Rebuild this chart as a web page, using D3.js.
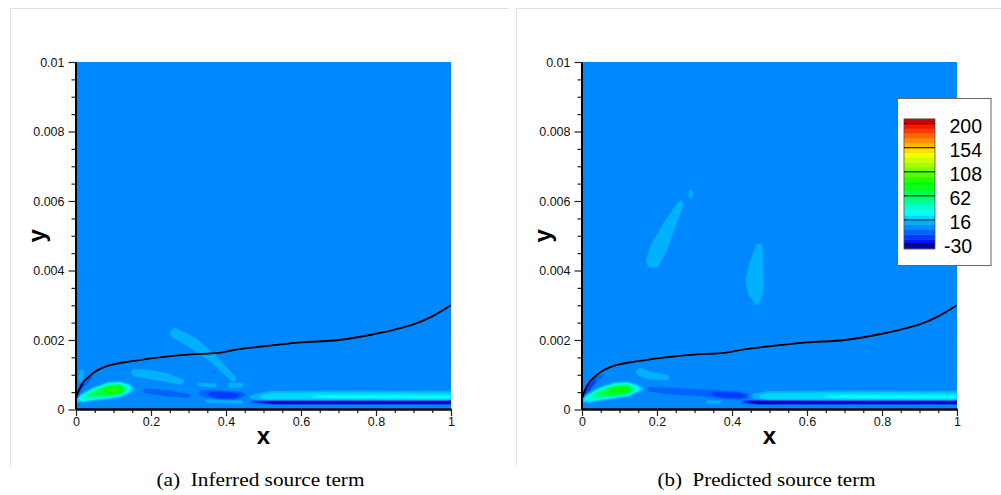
<!DOCTYPE html>
<html><head><meta charset="utf-8">
<script src="https://cdn.jsdelivr.net/npm/d3@7"></script>
<style>body{margin:0;background:#fff}svg{display:block}</style>
</head><body>
<svg id="chart" width="1001" height="495"></svg>
<script>
// ---------------- data ----------------
const xTicks = [0, 0.2, 0.4, 0.6, 0.8, 1];
const xTickLabels = ["0", "0.2", "0.4", "0.6", "0.8", "1"];
const xMinorTicks = [0.05,0.1,0.15,0.25,0.3,0.35,0.45,0.5,0.55,0.65,0.7,0.75,0.85,0.9,0.95];
const yTicks = [0, 0.002, 0.004, 0.006, 0.008, 0.01];
const yTickLabels = ["0", "0.002", "0.004", "0.006", "0.008", "0.01"];
const yMinorTicks = [0.0005,0.001,0.0015,0.0025,0.003,0.0035,0.0045,0.005,0.0055,0.0065,0.007,0.0075,0.0085,0.009,0.0095];

// contour levels of the source term
const levels = [-30,-20.8,-11.6,-2.4,6.8,16,25.2,34.4,43.6,52.8,62,71.2,80.4,89.6,98.8,108,117.2,126.4,135.6,144.8,154,163.2,172.4,181.6,190.8,200];
const legendLabels = [200, 154, 108, 62, 16, -30];
const backgroundValue = 2;

// boundary-layer edge (black line), same in both panels
const edgeX = [0, 0.005, 0.01, 0.02, 0.03, 0.05, 0.075, 0.1, 0.15, 0.2, 0.3, 0.38, 0.42, 0.5, 0.6, 0.7, 0.8, 0.85, 0.9, 0.95, 1.0];
const edgeY = [0.0003, 0.00048, 0.0006, 0.00079, 0.0009, 0.00108, 0.00122, 0.0013, 0.00139, 0.00147, 0.00158, 0.00163, 0.00171, 0.00182, 0.00193, 0.002, 0.00218, 0.0023, 0.00245, 0.00268, 0.003];

// source-term features: polylines of [x, y, half-thickness (y units), value above background]
const featuresA = [
  [[0.0,0.00026,0.00007,12],[0.02,0.00034,0.00011,38],[0.05,0.00045,0.00015,62],[0.09,0.00055,0.00018,90],[0.115,0.00058,0.00017,88],[0.135,0.0006,0.00013,42],[0.152,0.0006,0.00007,9]],
  [[0.003,0.00042,0.00006,-13],[0.015,0.00068,0.00007,-16],[0.04,0.0009,0.00005,-8]],
  [[0.012,0.00088,0.00007,11],[0.015,0.00108,0.00007,11]],
  [[0.158,0.00106,0.00011,11],[0.2,0.001,0.00014,11],[0.24,0.00092,0.00013,11],[0.28,0.0008,0.00009,11]],
  [[0.185,0.00054,0.00008,-9],[0.24,0.00047,0.0001,-10],[0.3,0.00039,0.00007,-8]],
  [[0.265,0.00219,0.00015,11],[0.313,0.00191,0.00017,11],[0.366,0.00146,0.00012,11],[0.402,0.00107,0.0001,11],[0.42,0.00088,0.00008,10]],
  [[0.366,0.00111,0.00003,-8],[0.37,0.00109,0.00003,-8]],
  [[0.33,0.00072,0.00006,10],[0.37,0.00069,0.00006,10]],
  [[0.412,0.0007,0.00007,11],[0.44,0.0007,0.00007,11]],
  [[0.335,0.00047,0.0001,-8],[0.38,0.00042,0.00012,-22],[0.42,0.0004,0.00011,-22],[0.445,0.00043,0.00008,-8]],
  [[0.35,0.00024,0.00005,10],[0.44,0.00022,0.00005,10]],
  [[0.47,0.00036,0.00008,8],[0.52,0.00037,0.00014,22],[0.7,0.00037,0.00015,24],[1.0,0.00036,0.00015,24]],
  [[0.47,0.00022,0.00004,-15],[0.53,0.00021,0.00006,-50],[1.0,0.00021,0.00006,-55]]
];
const featuresB = [
  [[0.0,0.00026,0.00007,12],[0.02,0.00034,0.00011,38],[0.05,0.00045,0.00015,62],[0.09,0.00055,0.00017,88],[0.12,0.00058,0.00016,86],[0.14,0.0006,0.00012,38],[0.16,0.0006,0.00007,9]],
  [[0.004,0.0004,0.00006,-12],[0.018,0.00065,0.00009,-20],[0.04,0.00088,0.00006,-12],[0.055,0.00098,0.00004,-7]],
  [[0.155,0.00108,0.00012,11],[0.18,0.00098,0.00012,11],[0.225,0.00092,0.00008,10]],
  [[0.18,0.00058,0.00009,-7],[0.25,0.00052,0.00011,-9],[0.32,0.00048,0.00011,-9],[0.38,0.00042,0.00011,-20],[0.42,0.0004,0.0001,-22],[0.45,0.00038,0.00007,-8]],
  [[0.335,0.00022,0.00004,10],[0.37,0.00022,0.00004,10]],
  [[0.45,0.00038,0.00008,8],[0.5,0.00037,0.00014,21],[0.7,0.00037,0.00015,24],[1.0,0.00036,0.00015,24]],
  [[0.43,0.00022,0.00004,-15],[0.47,0.00021,0.00006,-55],[1.0,0.00021,0.00006,-55]],
  [[0.19,0.00428,0.00022,11],[0.205,0.00465,0.00026,11],[0.235,0.00535,0.00018,11],[0.262,0.0059,0.0001,11]],
  [[0.29,0.00614,0.00006,10],[0.29,0.00626,0.00006,10]],
  [[0.472,0.00468,0.0001,11],[0.465,0.0042,0.00021,11],[0.461,0.0037,0.00028,11],[0.463,0.0034,0.00024,11],[0.466,0.00312,0.00011,11]]
];
const captions = ["(a)  Inferred source term", "(b)  Predicted source term"];

// ---------------- styles ----------------
const cmapStops = [0, 0.26, 0.5, 0.75, 1];
const cmapColors = ["#0000ff", "#00ffff", "#00ff00", "#ffff00", "#ff0000"];
const belowColor = "#0000b4", aboveColor = "#c80000";
const sansFont = "'Liberation Sans', Arial, Helvetica, sans-serif";
const serifFont = "'Liberation Serif', 'Times New Roman', serif";
const captionWidths = [208, 218];

const svg = d3.select("#chart");
svg.append("rect").attr("width", 1001).attr("height", 495).attr("fill", "#fff");

const cmap = d3.scaleLinear().domain(cmapStops).range(cmapColors).interpolate(d3.interpolateRgb);
const frac = d3.scaleLinear().domain([levels[0], levels[levels.length - 1]]).range([0, 1]);
function bandColor(k) { // band k: [levels[k], levels[k+1])
  if (k < 0) return belowColor;
  if (k >= levels.length - 1) return aboveColor;
  return cmap(frac((levels[k] + levels[k + 1]) / 2));
}

const panels = [
  { x0: 76, x1: 451, feats: featuresA, frame: [10, 509] },
  { x0: 582, x1: 957, feats: featuresB, frame: [516, 1001], legend: true }
];
const y0 = 62, y1 = 409.5;

function buildField(feats, xs, ys, nx, ny, gx, gy) {
  const hs = d => Math.abs(ys(0) - ys(d));
  const F = feats.map(f => {
    const pts = f.map(p => ({ x: xs(p[0]), y: ys(p[1]), h: hs(p[2]), v: p[3] }));
    const hmax = d3.max(pts, p => p.h) * 2.6;
    return { pts, bx0: d3.min(pts, p => p.x) - hmax, bx1: d3.max(pts, p => p.x) + hmax,
             by0: d3.min(pts, p => p.y) - hmax, by1: d3.max(pts, p => p.y) + hmax };
  });
  const vals = new Float64Array(nx * ny);
  for (let j = 0; j < ny; j++) {
    const py = gy(j + 0.5);
    for (let i = 0; i < nx; i++) {
      const px = gx(i + 0.5);
      let val = backgroundValue;
      for (const f of F) {
        if (px < f.bx0 || px > f.bx1 || py < f.by0 || py > f.by1) continue;
        let best = 0;
        const P = f.pts;
        for (let k = 0; k < P.length - 1; k++) {
          const a = P[k], b = P[k + 1];
          const dx = b.x - a.x, dy = b.y - a.y, L2 = dx * dx + dy * dy;
          let t = L2 > 0 ? ((px - a.x) * dx + (py - a.y) * dy) / L2 : 0;
          t = Math.max(0, Math.min(1, t));
          const cx = a.x + t * dx, cy = a.y + t * dy;
          const d = Math.hypot(px - cx, py - cy);
          const h = a.h + t * (b.h - a.h), v = a.v + t * (b.v - a.v);
          const r = d / h;
          const c = v * Math.exp(-r * r * r);
          if (Math.abs(c) > Math.abs(best)) best = c;
        }
        val += best;
      }
      vals[j * nx + i] = val;
    }
  }
  return vals;
}

panels.forEach((P, pi) => {
  const g = svg.append("g");
  // light frame lines
  g.append("line").attr("x1", P.frame[0]).attr("x2", P.frame[1]).attr("y1", 8.5).attr("y2", 8.5).attr("stroke", "#e2e2e2");
  g.append("line").attr("x1", P.frame[0] + 0.5).attr("x2", P.frame[0] + 0.5).attr("y1", 8).attr("y2", 466).attr("stroke", "#e2e2e2");

  const xs = d3.scaleLinear().domain([0, 1]).range([P.x0, P.x1]);
  const ys = d3.scaleLinear().domain([0, 0.01]).range([y1, y0]);
  const nx = Math.round(P.x1 - P.x0), ny = Math.round(y1 - y0);
  const gx = d3.scaleLinear().domain([0, nx]).range([P.x0, P.x1]);
  const gy = d3.scaleLinear().domain([0, ny]).range([y0, y1]);

  const clipId = "clip" + pi;
  svg.append("clipPath").attr("id", clipId).append("rect")
    .attr("x", P.x0).attr("y", y0).attr("width", P.x1 - P.x0).attr("height", y1 - y0);
  const plot = g.append("g").attr("clip-path", `url(#${clipId})`);

  const vals = buildField(P.feats, xs, ys, nx, ny, gx, gy);
  const contours = d3.contours().size([nx, ny]).thresholds(levels)(vals);
  const path = d3.geoPath(d3.geoTransform({ point(x, y) { this.stream.point(gx(x), gy(y)); } }));

  plot.append("rect").attr("x", P.x0).attr("y", y0).attr("width", P.x1 - P.x0).attr("height", y1 - y0)
    .attr("fill", bandColor(-1));
  plot.selectAll("path.band").data(contours).join("path").attr("class", "band")
    .attr("d", path)
    .attr("fill", d => bandColor(levels.indexOf(d.value)))
    .attr("stroke", d => bandColor(levels.indexOf(d.value))).attr("stroke-width", 0.3);

  // boundary-layer edge
  const line = d3.line().x((d, i) => xs(edgeX[i])).y(d => ys(d)).curve(d3.curveMonotoneX);
  plot.append("path").attr("d", line(edgeY)).attr("fill", "none").attr("stroke", "#000").attr("stroke-width", 1.8);

  // axes
  const yAxis = d3.axisLeft(ys).tickValues(yTicks).tickFormat((d, i) => yTickLabels[i]).tickSize(7).tickSizeOuter(0).tickPadding(4);
  const yMinor = d3.axisLeft(ys).tickValues(yMinorTicks).tickFormat("").tickSize(4).tickSizeOuter(0);
  const xAxis = d3.axisBottom(xs).tickValues(xTicks).tickFormat((d, i) => xTickLabels[i]).tickSize(7).tickSizeOuter(0).tickPadding(1);
  const xMinor = d3.axisBottom(xs).tickValues(xMinorTicks).tickFormat("").tickSize(4).tickSizeOuter(0);

  const styleAxis = sel => {
    sel.selectAll("text").attr("font-family", sansFont).attr("font-size", 12.5).attr("fill", "#111");
    sel.selectAll("line").attr("stroke", "#222").attr("stroke-width", 1.2);
    sel.select(".domain").attr("stroke", "#000").attr("stroke-width", 2);
  };
  g.append("g").attr("transform", `translate(${P.x0 - 0.5},0)`).call(yMinor).call(styleAxis);
  g.append("g").attr("transform", `translate(${P.x0 - 0.5},0)`).call(yAxis).call(styleAxis);
  g.append("g").attr("transform", `translate(0,${y1 - 0.5})`).call(xMinor).call(styleAxis);
  g.append("g").attr("transform", `translate(0,${y1 - 0.5})`).call(xAxis).call(styleAxis);

  // axis titles
  g.append("text").attr("x", (P.x0 + P.x1) / 2).attr("y", 444).attr("text-anchor", "middle")
    .attr("font-family", sansFont).attr("font-weight", "bold").attr("font-size", 24).text("x");
  g.append("text").attr("transform", `translate(${P.x0 - 31},${(y0 + y1) / 2}) rotate(-90)`).attr("text-anchor", "middle")
    .attr("font-family", sansFont).attr("font-weight", "bold").attr("font-size", 24).text("y");

  // caption
  g.append("text").attr("x", (P.x0 + P.x1) / 2 - 3).attr("y", 486).attr("text-anchor", "middle")
    .attr("font-family", serifFont).attr("font-size", 19).style("white-space", "pre")
    .attr("textLength", captionWidths[pi]).attr("lengthAdjust", "spacingAndGlyphs")
    .text(captions[pi]);

  if (P.legend) {
    const lg = svg.append("g");
    lg.append("rect").attr("x", 897.5).attr("y", 98.5).attr("width", 93.5).attr("height", 167)
      .attr("fill", "#fff").attr("stroke", "#666").attr("stroke-width", 1);
    const ly = d3.scaleLinear().domain([levels[0], levels[levels.length - 1]]).range([244, 123.7]);
    const step = levels[1] - levels[0];
    const bands = d3.range(-1, levels.length);
    const bx = 904, bw = 31;
    lg.selectAll("rect.lb").data(bands).join("rect").attr("class", "lb")
      .attr("x", bx).attr("width", bw)
      .attr("y", k => ly(k + 1 < levels.length ? levels[k + 1] : levels[levels.length - 1] + step))
      .attr("height", k => {
        const lo = k < 0 ? levels[0] - step : levels[k];
        const hi = k + 1 < levels.length ? levels[k + 1] : levels[levels.length - 1] + step;
        return ly(lo) - ly(hi) + 0.4;
      })
      .attr("fill", k => bandColor(k));
    lg.append("rect").attr("x", bx).attr("y", ly(levels[levels.length - 1] + step)).attr("width", bw)
      .attr("height", ly(levels[0] - step) - ly(levels[levels.length - 1] + step))
      .attr("fill", "none").attr("stroke", "#555").attr("stroke-width", 0.8);
    lg.selectAll("line.ll").data(legendLabels).join("line").attr("class", "ll")
      .attr("x1", bx).attr("x2", bx + bw).attr("y1", d => ly(d)).attr("y2", d => ly(d))
      .attr("stroke", "#000").attr("stroke-width", 1);
    lg.selectAll("text.lt").data(legendLabels).join("text").attr("class", "lt")
      .attr("x", d => d < 0 ? 944 : 949.5).attr("y", d => ly(d) + 2).attr("dy", "0.35em")
      .attr("font-family", sansFont).attr("font-size", 19.5).attr("fill", "#000")
      .text(d => String(d));
  }
});
</script>
</body></html>
